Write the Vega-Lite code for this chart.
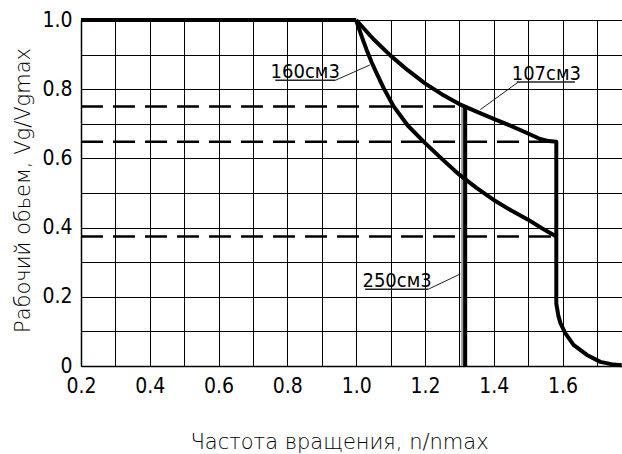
{
  "$schema": "https://vega.github.io/schema/vega-lite/v6.json",
  "autosize": "none",
  "padding": {"left": 81, "top": 20, "right": 0, "bottom": 88},
  "width": 541,
  "height": 346,
  "background": "white",
  "config": {
    "view": {"stroke": null},
    "axis": {
      "labelFont": "DejaVu Sans Condensed, Liberation Sans, sans-serif",
      "labelFontSize": 21,
      "labelColor": "black",
      "titleFont": "DejaVu Sans",
      "titleFontSize": 21,
      "titleFontWeight": 200,
      "titleColor": "black",
      "gridColor": "black",
      "gridOpacity": 1,
      "gridWidth": 1,
      "domainColor": "black",
      "domainWidth": 1.5,
      "ticks": false,
      "labelFlush": false,
      "labelPadding": 9
    },
    "axisX": {
      "values": [0.2, 0.3, 0.4, 0.5, 0.6, 0.7, 0.8, 0.9, 1.0, 1.1, 1.2, 1.3, 1.4, 1.5, 1.6, 1.7],
      "labelExpr": "round(datum.value*10)%2==0 ? format(datum.value, '.1f') : ''",
      "titleX": 258,
      "titleY": 82,
      "titleAlign": "center",
      "titleBaseline": "alphabetic"
    },
    "axisY": {
      "values": [0, 0.1, 0.2, 0.3, 0.4, 0.5, 0.6, 0.7, 0.8, 0.9, 1.0],
      "labelExpr": "datum.value == 0 ? '0' : (round(datum.value*10)%2==0 ? format(datum.value, '.1f') : '')",
      "titleAngle": 270,
      "titleX": -52,
      "titleY": 170,
      "titleAlign": "center",
      "titleBaseline": "alphabetic"
    }
  },
  "datasets": {
    "lines": [
      {"series": "top", "i": 0, "x": 0.2, "y": 1.0},
      {"series": "top", "i": 1, "x": 1.0, "y": 1.0},
      {"series": "107", "i": 0, "x": 1.0, "y": 1.0},
      {"series": "107", "i": 1, "x": 1.05, "y": 0.945},
      {"series": "107", "i": 2, "x": 1.1, "y": 0.897},
      {"series": "107", "i": 3, "x": 1.15, "y": 0.855},
      {"series": "107", "i": 4, "x": 1.2, "y": 0.817},
      {"series": "107", "i": 5, "x": 1.25, "y": 0.785},
      {"series": "107", "i": 6, "x": 1.3, "y": 0.757},
      {"series": "107", "i": 7, "x": 1.35, "y": 0.735},
      {"series": "107", "i": 8, "x": 1.4, "y": 0.714},
      {"series": "107", "i": 9, "x": 1.45, "y": 0.694},
      {"series": "107", "i": 10, "x": 1.5, "y": 0.672},
      {"series": "107", "i": 11, "x": 1.535, "y": 0.656},
      {"series": "107", "i": 12, "x": 1.56, "y": 0.65},
      {"series": "107", "i": 13, "x": 1.582, "y": 0.648},
      {"series": "107", "i": 14, "x": 1.582, "y": 0.18},
      {"series": "107", "i": 15, "x": 1.588, "y": 0.145},
      {"series": "107", "i": 16, "x": 1.594, "y": 0.124},
      {"series": "107", "i": 17, "x": 1.608, "y": 0.095},
      {"series": "107", "i": 18, "x": 1.632, "y": 0.061},
      {"series": "107", "i": 19, "x": 1.671, "y": 0.032},
      {"series": "107", "i": 20, "x": 1.71, "y": 0.012},
      {"series": "107", "i": 21, "x": 1.748, "y": 0.004},
      {"series": "107", "i": 22, "x": 1.772, "y": 0.002},
      {"series": "160", "i": 0, "x": 1.0, "y": 1.0},
      {"series": "160", "i": 1, "x": 1.01, "y": 0.97},
      {"series": "160", "i": 2, "x": 1.02, "y": 0.942},
      {"series": "160", "i": 3, "x": 1.03, "y": 0.915},
      {"series": "160", "i": 4, "x": 1.045, "y": 0.878},
      {"series": "160", "i": 5, "x": 1.06, "y": 0.845},
      {"series": "160", "i": 6, "x": 1.08, "y": 0.803},
      {"series": "160", "i": 7, "x": 1.108, "y": 0.752},
      {"series": "160", "i": 8, "x": 1.15, "y": 0.695},
      {"series": "160", "i": 9, "x": 1.2, "y": 0.645},
      {"series": "160", "i": 10, "x": 1.25, "y": 0.598},
      {"series": "160", "i": 11, "x": 1.3, "y": 0.553},
      {"series": "160", "i": 12, "x": 1.35, "y": 0.515},
      {"series": "160", "i": 13, "x": 1.4, "y": 0.48},
      {"series": "160", "i": 14, "x": 1.45, "y": 0.45},
      {"series": "160", "i": 15, "x": 1.5, "y": 0.423},
      {"series": "160", "i": 16, "x": 1.54, "y": 0.398},
      {"series": "160", "i": 17, "x": 1.582, "y": 0.374},
      {"series": "250", "i": 0, "x": 1.317, "y": 0.752},
      {"series": "250", "i": 1, "x": 1.317, "y": 0.0}
    ],
    "shadow": [
      {"series": "250s", "i": 0, "x": 1.309, "y": 0.752},
      {"series": "250s", "i": 1, "x": 1.309, "y": 0.0}
    ],
    "dashed": [
      {"y": 0.75, "x0": 0.2, "x1": 1.317},
      {"y": 0.648, "x0": 0.2, "x1": 1.582},
      {"y": 0.374, "x0": 0.2, "x1": 1.582}
    ],
    "leaders": [
      {"x": 0.765, "y": 0.826, "x2": 0.94, "y2": 0.826, "kind": "underline"},
      {"x": 0.94, "y": 0.826, "x2": 1.04, "y2": 0.87, "kind": "leader"},
      {"x": 1.467, "y": 0.821, "x2": 1.636, "y2": 0.821, "kind": "underline"},
      {"x": 1.472, "y": 0.821, "x2": 1.361, "y2": 0.741, "kind": "leader"},
      {"x": 1.026, "y": 0.222, "x2": 1.21, "y2": 0.222, "kind": "underline"},
      {"x": 1.21, "y": 0.222, "x2": 1.303, "y2": 0.266, "kind": "leader"}
    ],
    "labels": [
      {"label": "160см3", "x": 0.852, "y": 0.833},
      {"label": "107см3", "x": 1.553, "y": 0.828},
      {"label": "250см3", "x": 1.119, "y": 0.2295}
    ]
  },
  "layer": [
    {
      "data": {"name": "dashed"},
      "mark": {"type": "rule", "color": "black", "strokeWidth": 2.5, "strokeDash": [22, 10]},
      "encoding": {
        "x": {
          "field": "x0", "type": "quantitative",
          "scale": {"domain": [0.2, 1.773], "nice": false, "zero": false},
          "axis": {"title": "Частота вращения, n/nmax"}
        },
        "x2": {"field": "x1"},
        "y": {
          "field": "y", "type": "quantitative",
          "scale": {"domain": [0, 1], "nice": false, "zero": false},
          "axis": {"title": "Рабочий обьем, Vg/Vgmax"}
        }
      }
    },
    {
      "data": {"name": "shadow"},
      "mark": {"type": "line", "color": "#9a9a9a", "strokeWidth": 2.5},
      "encoding": {
        "x": {"field": "x", "type": "quantitative"},
        "y": {"field": "y", "type": "quantitative"},
        "detail": {"field": "series"},
        "order": {"field": "i", "type": "quantitative"}
      }
    },
    {
      "data": {"name": "lines"},
      "mark": {"type": "line", "color": "black", "strokeWidth": 4, "strokeJoin": "round"},
      "encoding": {
        "x": {"field": "x", "type": "quantitative"},
        "y": {"field": "y", "type": "quantitative"},
        "detail": {"field": "series"},
        "order": {"field": "i", "type": "quantitative"}
      }
    },
    {
      "data": {"name": "leaders"},
      "mark": {"type": "rule", "color": "#222222"},
      "encoding": {
        "x": {"field": "x", "type": "quantitative"},
        "y": {"field": "y", "type": "quantitative"},
        "x2": {"field": "x2"},
        "y2": {"field": "y2"},
        "strokeWidth": {
          "field": "kind", "type": "nominal",
          "scale": {"domain": ["underline", "leader"], "range": [1.5, 1]},
          "legend": null
        }
      }
    },
    {
      "data": {"name": "labels"},
      "mark": {"type": "text", "font": "DejaVu Sans Condensed, Liberation Sans, sans-serif", "fontSize": 20, "color": "black", "align": "center", "baseline": "alphabetic"},
      "encoding": {
        "x": {"field": "x", "type": "quantitative"},
        "y": {"field": "y", "type": "quantitative"},
        "text": {"field": "label"}
      }
    }
  ]
}
